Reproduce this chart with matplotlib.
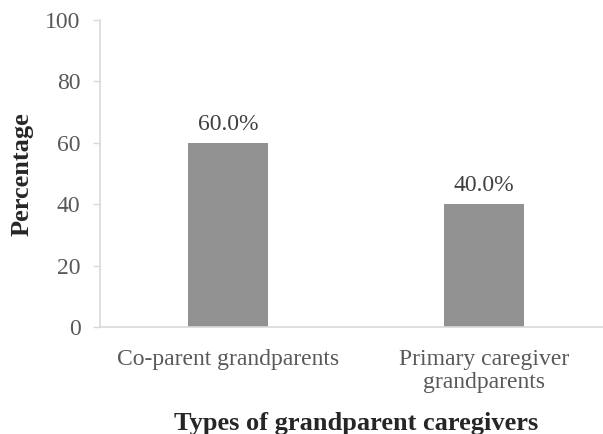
import matplotlib
matplotlib.use('Agg')
import matplotlib.pyplot as plt

plt.rcParams['font.family'] = ['Liberation Serif', 'DejaVu Serif']

categories = ['Co-parent grandparents', 'Primary caregiver\ngrandparents']
values = [60.0, 40.0]
yticks = [0, 20, 40, 60, 80, 100]

fig = plt.figure(figsize=(6.03, 4.34), dpi=100)
# axes run past the right edge of the figure, like the original
ax = fig.add_axes([100 / 603, 107 / 434, 512 / 603, 307 / 434])

x = list(range(len(categories)))
bars = ax.bar(x, values, width=0.31, color='#929292', zorder=2)

for b, v in zip(bars, values):
    ax.text(b.get_x() + b.get_width() / 2, v + 4.3, '%.1f%%' % v,
            ha='center', va='baseline', fontsize=17, color='#404040')

ax.set_xlim(-0.5, 1.5)
ax.set_ylim(0, 100)
ax.set_yticks(yticks)
ax.set_xticks(x)
ax.set_xticklabels(categories, fontsize=17, color='#595959', linespacing=1.1)
ax.tick_params(axis='y', labelsize=17, labelcolor='#595959', color='#d9d9d9',
               length=5, width=1, pad=9)
ax.tick_params(axis='x', length=0, pad=16)

for side in ['top', 'right']:
    ax.spines[side].set_visible(False)
for side in ['left', 'bottom']:
    ax.spines[side].set_color('#d9d9d9')
    ax.spines[side].set_linewidth(1.2)

fig.text(356 / 603, 1 - 430 / 434, 'Types of grandparent caregivers',
         ha='center', va='baseline', fontsize=19, fontweight='bold', color='#262626')
fig.text(22 / 603, 1 - 174 / 434, 'Percentage', rotation=90,
         ha='center', va='center', fontsize=19, fontweight='bold', color='#262626')

fig.savefig('out.png', dpi=100)
